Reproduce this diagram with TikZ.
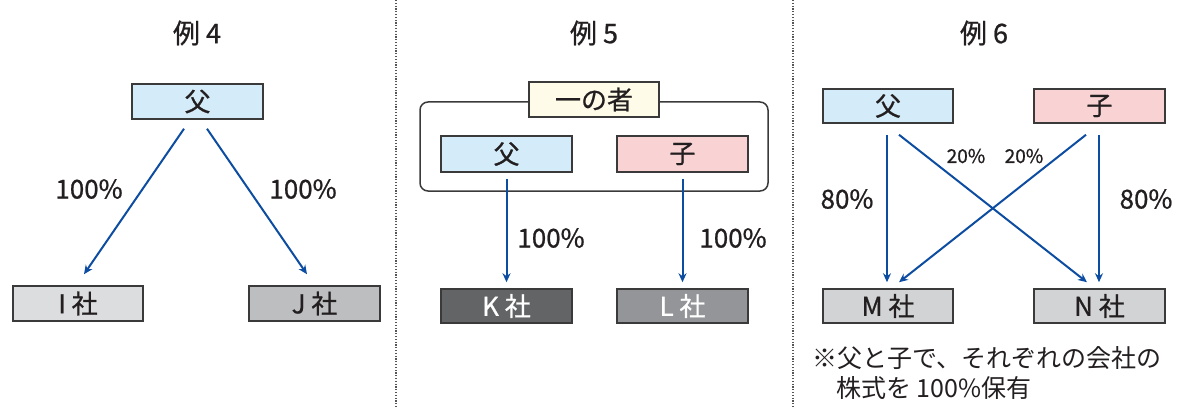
\documentclass[tikz,border=0pt]{standalone}
\usepackage{fontspec}
\setmainfont{Noto Sans CJK JP}
\newfontfamily\medfont{Noto Sans CJK JP}[FakeBold=0.8]
\usetikzlibrary{calc,arrows.meta}
\definecolor{txt}{HTML}{231F20}
\definecolor{bord}{HTML}{3A3A3A}
\definecolor{fblue}{HTML}{D4ECF9}
\definecolor{fpink}{HTML}{F9D3D3}
\definecolor{fyel}{HTML}{FEFCE8}
\definecolor{gI}{HTML}{DCDDDE}
\definecolor{gJ}{HTML}{BCBEC0}
\definecolor{gM}{HTML}{D1D3D4}
\definecolor{gK}{HTML}{636466}
\definecolor{gL}{HTML}{939598}
\definecolor{arr}{HTML}{0D4DA1}
\definecolor{dotc}{HTML}{555555}
\tikzset{
  box/.style={draw=bord, line width=1.5pt, minimum width=130pt, minimum height=35pt, inner sep=0pt, text=txt, font=\medfont\fontsize{26}{30}\selectfont},
  title/.style={text=txt, font=\medfont\fontsize{27}{30}\selectfont},
  pct/.style={text=txt, font=\medfont\fontsize{26}{30}\selectfont},
  spct/.style={text=txt, font=\medfont\fontsize{19}{22}\selectfont},
  note/.style={text=txt, font=\fontsize{25}{28}\selectfont, anchor=west, inner sep=0pt},
  conn/.style={draw=arr, line width=2pt, -{Stealth[length=9pt,width=8pt]}},
  sep/.style={draw=dotc, line width=1.2pt, dash pattern=on 1.2pt off 1.6pt},
}
\begin{document}
\begin{tikzpicture}[x=1pt,y=-1pt]
\useasboundingbox (0,0) rectangle (1182,409);
% separators
\coordinate (s1t) at (396,0); \coordinate (s1b) at (396,409);
\coordinate (s2t) at (793,0); \coordinate (s2b) at (793,409);
\draw[sep] (s1t) -- (s1b);
\draw[sep] (s2t) -- (s2b);
% ---------- Example 4
\node[title] (t4) at (197,33) {例 4};
\node[box, fill=fblue, minimum width=131pt] (f4) at (197.5,101.5) {父};
\node[box, fill=gI] (i4) at (78,303.5) {I 社};
\node[box, fill=gJ, minimum width=131pt] (j4) at (314.5,303.5) {J 社};
\draw[conn] ($(f4.south)+(-13.5,9)$) -- ($(i4.north)+(6,-11)$);
\draw[conn] ($(f4.south)+(9.5,9)$) -- ($(j4.north)+(-7.5,-11)$);
\node[pct] (p4a) at (89,189) {100\%};
\node[pct] (p4b) at (303,189) {100\%};
% ---------- Example 5
\node[title] (t5) at (594,33) {例 5};
\node[draw=bord, line width=1.5pt, rounded corners=8pt, minimum width=348pt, minimum height=89pt] (g5) at (594,146.5) {};
\node[box, fill=fyel] (o5) at (594,99.5) {一の者};
\node[box, fill=fblue, minimum width=131pt, minimum height=36pt] (f5) at (506.5,154) {父};
\node[box, fill=fpink, minimum width=131pt, minimum height=36pt] (c5) at (682.5,154) {子};
\node[box, fill=gK, text=white, minimum width=131pt, minimum height=34pt] (k5) at (506.5,306) {K 社};
\node[box, fill=gL, text=white, minimum width=131pt, minimum height=34pt] (l5) at (682.5,306) {L 社};
\draw[conn, shorten <=6pt, shorten >=6pt] (f5.south) -- (k5.north);
\draw[conn, shorten <=6pt, shorten >=6pt] (c5.south) -- (l5.north);
\node[pct] (p5a) at (551,238) {100\%};
\node[pct] (p5b) at (733,238) {100\%};
% ---------- Example 6
\node[title] (t6) at (984,33) {例 6};
\node[box, fill=fblue, minimum height=34pt] (f6) at (888,106) {父};
\node[box, fill=fpink, minimum width=131pt, minimum height=34pt] (c6) at (1099.5,106) {子};
\node[box, fill=gM, minimum height=34pt] (m6) at (888,306) {M 社};
\node[box, fill=gM, minimum width=131pt, minimum height=34pt] (n6) at (1099.5,306) {N 社};
\draw[conn] ($(f6.south)+(-1,11)$) -- ($(m6.north)+(-1,-6)$);
\draw[conn] ($(c6.south)+(-0.5,11)$) -- ($(n6.north)+(-0.5,-6)$);
\draw[conn] ($(f6.south)+(11,11)$) -- ($(n6.north)+(-12.5,-6)$);
\draw[conn] ($(c6.south)+(-13.5,11)$) -- ($(m6.north)+(11,-6)$);
\node[pct] (p6a) at (847,199) {80\%};
\node[pct] (p6b) at (1146,199) {80\%};
\node[spct] (p6c) at (966,156) {20\%};
\node[spct] (p6d) at (1024,156) {20\%};
\node[note] (n1) at (812,358) {※父と子で、それぞれの会社の};
\node[note] (n2) at (836,388) {株式を 100\%保有};
\end{tikzpicture}
\end{document}
